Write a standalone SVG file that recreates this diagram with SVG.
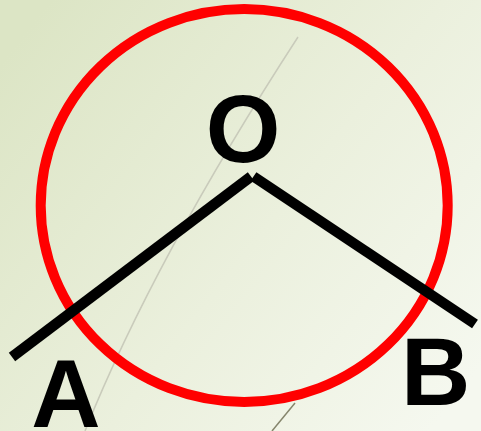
<svg xmlns="http://www.w3.org/2000/svg" width="481" height="431" viewBox="0 0 481 431">
  <defs>
    <linearGradient id="bg" x1="0" y1="0.15" x2="1" y2="0.85">
      <stop offset="0" stop-color="#dce5c5"/>
      <stop offset="0.55" stop-color="#ebf0dd"/>
      <stop offset="1" stop-color="#f5f8ef"/>
    </linearGradient>
    <style>
      .lbl { font-family: "Liberation Sans", Arial, sans-serif; font-weight: bold; font-size: 96px; fill: #000; }
      .arm { stroke: #000; stroke-width: 10.5; fill: none; stroke-linecap: butt; }
    </style>
  </defs>
  <rect x="0" y="0" width="481" height="431" fill="url(#bg)"/>
  <g id="decor">
    <path d="M298,37 Q154,259 85,431" fill="none" stroke="#c9cbbb" stroke-width="1.5"/>
    <path d="M295,403 L272,431" fill="none" stroke="#85856c" stroke-width="1.5"/>
  </g>
  <g id="circle">
    <ellipse cx="244.2" cy="205.5" rx="203.5" ry="196.5" fill="none" stroke="#ff0000" stroke-width="10"/>
  </g>
  <g id="connectors">
    <line class="arm" x1="12" y1="357" x2="251" y2="176.5"/>
    <line class="arm" x1="253.5" y1="176.5" x2="475" y2="324"/>
  </g>
  <g id="node-O">
    <text class="lbl" x="243" y="162" text-anchor="middle">O</text>
  </g>
  <g id="node-A">
    <text class="lbl" x="66" y="427" text-anchor="middle">A</text>
  </g>
  <g id="node-B">
    <text class="lbl" x="401" y="405">B</text>
  </g>
</svg>
